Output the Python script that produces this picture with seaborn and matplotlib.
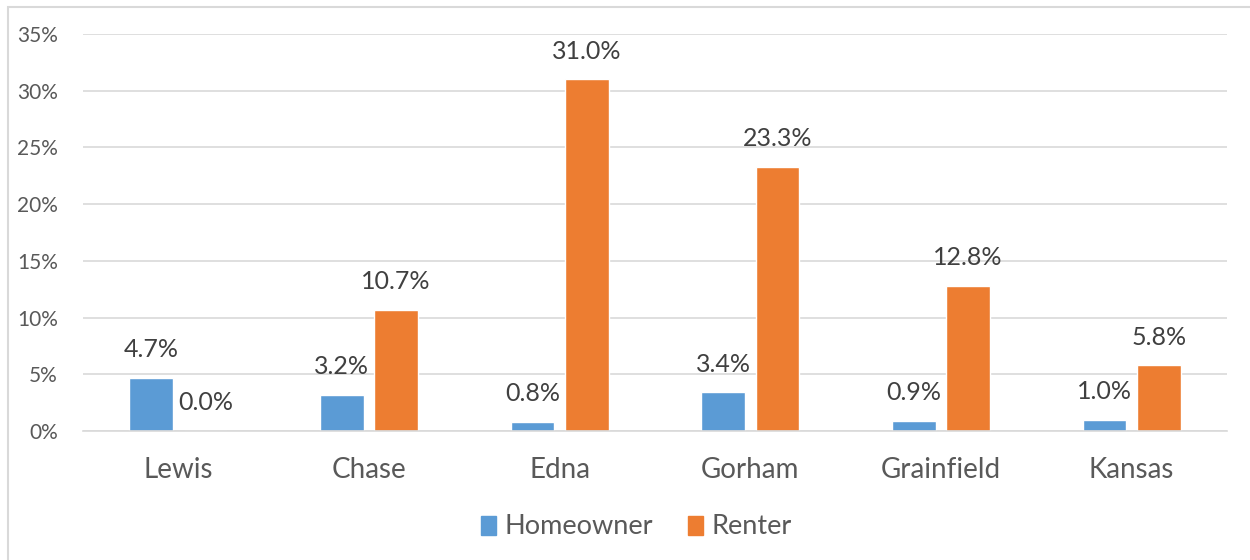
import pandas as pd
import matplotlib.pyplot as plt
import matplotlib.patches as patches
import seaborn as sns

places = ["Lewis", "Chase", "Edna", "Gorham", "Grainfield", "Kansas"]
homeowner = [4.7, 3.2, 0.8, 3.4, 0.9, 1.0]
renter = [0.0, 10.7, 31.0, 23.3, 12.8, 5.8]
groups = ["Homeowner", "Renter"]
colors = ["#5B9BD5", "#ED7D31"]

df = pd.DataFrame({
    "Place": places * 2,
    "Tenure": ["Homeowner"] * len(places) + ["Renter"] * len(places),
    "Pct": homeowner + renter,
})

sns.set_style("white")
plt.rcParams["font.family"] = ["Lato", "DejaVu Sans"]

fig = plt.figure(figsize=(12.5, 5.6), dpi=100)
ax = fig.add_axes([83 / 1250, 1 - 431 / 560, (1227 - 83) / 1250, (431 - 34) / 560])

sns.barplot(data=df, x="Place", y="Pct", hue="Tenure", hue_order=groups,
            palette=colors, width=0.57, gap=0.2, saturation=1, ax=ax, legend=False)

ax.set_ylim(0, 35)
ax.set_xlim(-0.5, len(places) - 0.5)
ax.set_yticks(range(0, 36, 5))
ax.set_yticklabels([f"{v}%" for v in range(0, 36, 5)], fontsize=15, color="#595959")
ax.tick_params(axis="y", length=0, pad=18)
ax.tick_params(axis="x", length=0, pad=19, labelsize=20, labelcolor="#595959")
ax.set_xlabel("")
ax.set_ylabel("")
ax.grid(axis="y", color="#D9D9D9", linewidth=1.2)
ax.set_axisbelow(True)
for s in ["top", "right", "left"]:
    ax.spines[s].set_visible(False)
ax.spines["bottom"].set_color("#D9D9D9")
ax.spines["bottom"].set_linewidth(1.2)

for cont in ax.containers:
    ax.bar_label(cont, labels=[f"{v:.1f}%" for v in cont.datavalues],
                 padding=12, fontsize=18, color="#404040")

handles = [patches.Patch(color=c, label=g) for c, g in zip(colors, groups)]
fig.legend(handles=handles, loc="center", bbox_to_anchor=(0.509, 1 - 527 / 560),
           ncol=2, frameon=False, fontsize=19.5, handlelength=0.55, handleheight=0.7,
           handletextpad=0.3, columnspacing=1.3, labelcolor="#595959")

# outer chart frame
fig.patches.append(patches.Rectangle((8 / 1250, -0.1), 1.2, 1 - 7 / 560 + 0.1,
                                     transform=fig.transFigure, fill=False,
                                     edgecolor="#D9D9D9", linewidth=1.5))

fig.savefig("out.png", dpi=100)
